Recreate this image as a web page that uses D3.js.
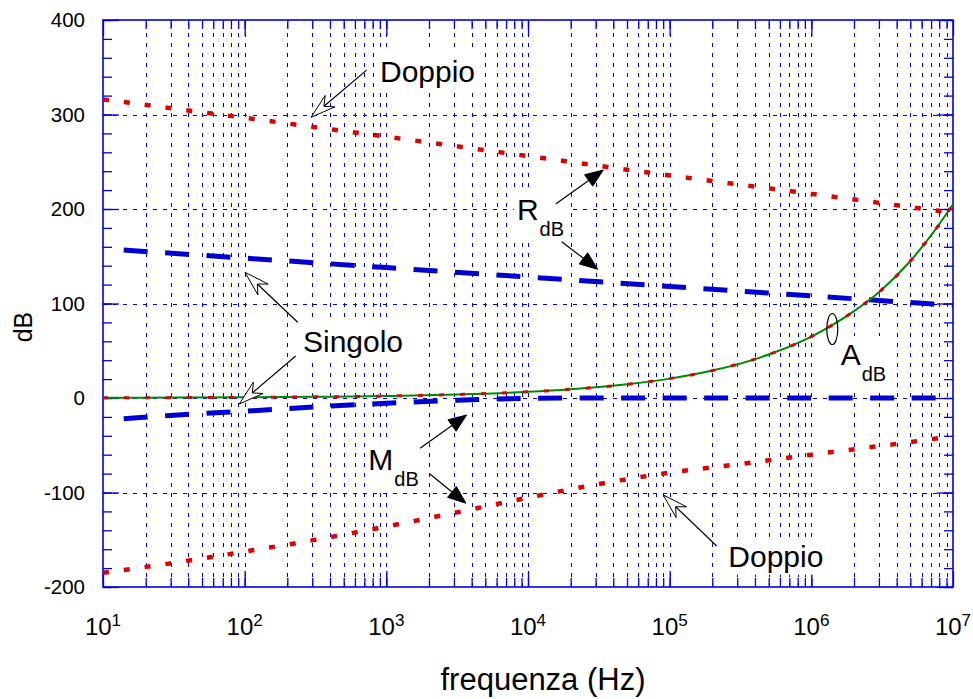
<!DOCTYPE html>
<html>
<head>
<meta charset="utf-8">
<script src="https://cdn.jsdelivr.net/npm/d3@7"></script>
<style>
  body { margin: 0; background: #fff; }
  svg text { font-family: "Liberation Sans", Arial, Helvetica, sans-serif; fill: #000; }
</style>
</head>
<body>
<svg width="973" height="699"></svg>
<script>
// values (frequency in Hz, levels in dB)
const freqDecades = [1e1, 1e2, 1e3, 1e4, 1e5, 1e6, 1e7];
const rDoppio = [316, 296.5, 276.5, 256, 235.5, 216, 196];

const freqSingolo = [14, 1e2, 1e3, 1e4, 1e5, 1e6, 1e7];
const rSingolo = [156.5, 148, 138, 128, 118, 108, 98];

const freqMSingolo = [14, 30, 100, 316, 1e3, 3160, 1e4, 31600, 1e5, 1e7];
const mSingolo = [-22, -18.5, -14, -9.5, -5.5, -2.3, -0.4, 0, 0, 0];

const freqHalfDec = [10, 31.6, 100, 316, 1e3, 3160, 1e4, 31600, 1e5, 316000, 1e6, 3.16e6, 1e7];
const mDoppio = [-185, -174.5, -162.5, -150, -136, -121, -105.5, -91, -79, -69.8, -60, -50.5, -40.5];

const freqA = [10, 31.6, 100, 316, 1e3, 3160, 1e4, 2e4, 5e4, 1e5, 2e5, 5e5, 1e6, 2e6, 3e6, 5e6, 7e6, 1e7];
const aDB = [0.2, 0.4, 0.7, 1.2, 2.1, 3.7, 6.5, 9.2, 14.5, 20.5, 29, 46, 65, 92, 112, 145, 172, 205];

const yTicks = [-200, -100, 0, 100, 200, 300, 400];
const xTickExp = [1, 2, 3, 4, 5, 6, 7];

const svg = d3.select('svg');
const blue = '#0000e6';
const x = d3.scaleLog().domain([1e1, 1e7]).range([103, 953]);
const y = d3.scaleLinear().domain([-200, 400]).range([587, 20]);
const [x0, x1] = x.range();
const [y0, y1] = y.range();

// grid
const minorX = x.ticks().filter(v => v > 10 && v < 1e7);
svg.append('g')
  .attr('transform', `translate(0, ${y0})`)
  .attr('shape-rendering', 'crispEdges')
  .call(d3.axisBottom(x).tickValues(minorX).tickSize(-(y0 - y1)).tickFormat(''))
  .call(g => g.select('.domain').remove())
  .selectAll('line').attr('stroke', blue).attr('stroke-width', 1).attr('stroke-dasharray', '4,6');

svg.append('g')
  .attr('transform', `translate(${x0}, 0)`)
  .attr('shape-rendering', 'crispEdges')
  .call(d3.axisLeft(y).tickValues([-100, 0, 100, 200, 300]).tickSize(-(x1 - x0)).tickFormat(''))
  .call(g => g.select('.domain').remove())
  .selectAll('line').attr('stroke', blue).attr('stroke-width', 1).attr('stroke-dasharray', '4,6');

// inward ticks on all four sides
const minorY = d3.range(-200, 401, 20);
const axes = [
  [d3.axisBottom, `translate(0, ${y0})`, x, minorX, freqDecades],
  [d3.axisTop, `translate(0, ${y1})`, x, minorX, freqDecades],
  [d3.axisLeft, `translate(${x0}, 0)`, y, minorY, yTicks],
  [d3.axisRight, `translate(${x1}, 0)`, y, minorY, yTicks]
];
axes.forEach(([axis, tr, sc, minor, major]) => {
  [[minor, -9], [major, -16]].forEach(([vals, size]) => {
    svg.append('g')
      .attr('transform', tr)
      .call(axis(sc).tickValues(vals).tickSize(size).tickFormat(''))
      .call(g => g.select('.domain').remove())
      .selectAll('line').attr('stroke', blue).attr('stroke-width', 1.3);
  });
});

svg.append('rect')
  .attr('x', x0).attr('y', y1)
  .attr('width', x1 - x0).attr('height', y0 - y1)
  .attr('fill', 'none').attr('stroke', blue).attr('stroke-width', 1.6);

// tick labels
svg.append('g')
  .attr('transform', `translate(${x0}, 0)`)
  .call(d3.axisLeft(y).tickValues(yTicks).tickSize(0).tickPadding(18).tickFormat(d => String(d)))
  .call(g => g.select('.domain').remove())
  .selectAll('text')
  .style('font-size', '20.5px')
  .style('font-family', '"Liberation Sans", Arial, sans-serif')
  .attr('fill', '#000');

const xl = svg.append('g').selectAll('text').data(xTickExp).join('text')
  .attr('x', d => x(Math.pow(10, d)))
  .attr('y', 635)
  .attr('text-anchor', 'middle');
xl.append('tspan').style('font-size', '24px').text('10');
xl.append('tspan').style('font-size', '17px').attr('dy', -9).text(d => d);

svg.append('text')
  .attr('x', 543).attr('y', 690)
  .attr('text-anchor', 'middle')
  .style('font-size', '31px')
  .text('frequenza (Hz)');

svg.append('text')
  .attr('transform', 'translate(32, 327) rotate(-90)')
  .attr('text-anchor', 'middle')
  .style('font-size', '25px')
  .text('dB');

// curves
const plot = svg.append('g');
const line = (fs) => d3.line()
  .x((d, i) => x(fs[i]))
  .y(d => y(d))
  .curve(d3.curveMonotoneX);

plot.append('path').datum(rSingolo)
  .attr('d', line(freqSingolo))
  .attr('fill', 'none').attr('stroke', '#0000d4').attr('stroke-width', 5)
  .attr('stroke-dasharray', '24,17.5');

plot.append('path').datum(mSingolo)
  .attr('d', line(freqMSingolo))
  .attr('fill', 'none').attr('stroke', '#0000d4').attr('stroke-width', 5)
  .attr('stroke-dasharray', '24,17.5');

plot.append('path').datum(aDB)
  .attr('d', line(freqA))
  .attr('fill', 'none').attr('stroke', '#008a00').attr('stroke-width', 2);

plot.append('path').datum(aDB)
  .attr('d', line(freqA))
  .attr('fill', 'none').attr('stroke', '#e00000').attr('stroke-width', 3)
  .attr('stroke-dasharray', '5,16');

plot.append('path').datum(rDoppio)
  .attr('d', line(freqDecades))
  .attr('fill', 'none').attr('stroke', '#e00000').attr('stroke-width', 4.5)
  .attr('stroke-dasharray', '6,15');

plot.append('path').datum(mDoppio)
  .attr('d', line(freqHalfDec))
  .attr('fill', 'none').attr('stroke', '#e00000').attr('stroke-width', 4.5)
  .attr('stroke-dasharray', '6,15');

// annotations (anchors in data units: [Hz, dB])
const ann = svg.append('g');

function label(at, main, sub) {
  const g = ann.append('g');
  const bg = g.append('rect').attr('fill', '#fff');
  const t = g.append('text')
    .attr('x', x(at[0])).attr('y', y(at[1]))
    .style('font-size', '30px');
  t.append('tspan').text(main);
  if (sub) t.append('tspan').attr('dx', 1).attr('dy', 16).style('font-size', '20px').text(sub);
  const b = t.node().getBBox();
  bg.attr('x', b.x - 3).attr('y', b.y - 2).attr('width', b.width + 6).attr('height', b.height + 4);
}

function arrow(tail, tip, hollow) {
  const ax = x(tail[0]), ay = y(tail[1]);
  const bx = x(tip[0]), by = y(tip[1]);
  const len = Math.hypot(bx - ax, by - ay);
  const ux = (bx - ax) / len, uy = (by - ay) / len;
  const L = hollow ? 25 : 18, w = hollow ? 7.5 : 7;
  const cx = bx - ux * L, cy = by - uy * L;
  const notch = hollow ? 0.68 : 1;
  const nx = bx - ux * L * notch, ny = by - uy * L * notch;
  ann.append('line')
    .attr('x1', ax).attr('y1', ay).attr('x2', nx).attr('y2', ny)
    .attr('stroke', '#000').attr('stroke-width', 1.2);
  const pts = [[bx, by], [cx - uy * w, cy + ux * w], [nx, ny], [cx + uy * w, cy - ux * w]];
  ann.append('polygon')
    .attr('points', pts.map(p => p.join(',')).join(' '))
    .attr('fill', hollow ? '#fff' : '#000')
    .attr('stroke', '#000').attr('stroke-width', 1);
}

label([902, 334.4], 'Doppio');
arrow([726, 347], [294, 297], true);

label([8356, 188.4], 'R', 'dB');
arrow([15690, 205.3], [34010, 241.3], false);
arrow([17300, 165.4], [31050, 136.2], false);

label([258, 49], 'Singolo');
arrow([236.7, 80.1], [100.5, 133], true);
arrow([229, 44.4], [91.6, -6.3], true);

ann.append('ellipse')
  .attr('cx', x(1.406e6)).attr('cy', y(73))
  .attr('rx', 5.5).attr('ry', 15.5)
  .attr('fill', 'none').attr('stroke', '#000').attr('stroke-width', 1.2);
label([1.61e6, 34.9], 'A', 'dB');

label([746, -76.2], 'M', 'dB');
arrow([1729, -53.2], [3690, -18], false);
arrow([2032, -80.4], [3648, -111.4], false);

label([2.594e5, -178.5], 'Doppio');
arrow([2.148e5, -156.6], [90150, -102.6], true);
</script>
</body>
</html>
